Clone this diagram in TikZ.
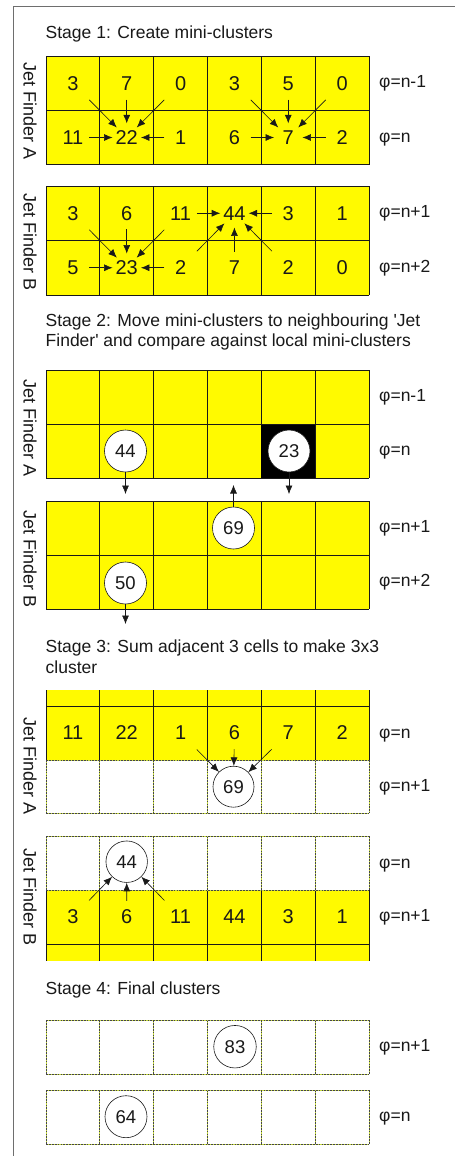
\documentclass[tikz,border=0pt]{standalone}
\usepackage{fontspec}
\setmainfont{Liberation Sans}
\usetikzlibrary{arrows.meta}
\definecolor{cellyellow}{RGB}{255,250,0}
\definecolor{ink}{RGB}{25,25,25}
\definecolor{framegray}{RGB}{110,110,110}
\definecolor{dashgray}{RGB}{70,70,70}
\definecolor{dashyellow}{RGB}{200,220,60}
\newcommand\tfont{\fontsize{17.5}{21}\selectfont}
\newcommand\jffont{\fontsize{18}{21}\selectfont}
\newcommand\dfont{\fontsize{20}{22}\selectfont}
\newcommand\bfontsz{\fontsize{18.5}{20}\selectfont}
\newcommand\ygrid[2]{%
  \fill[cellyellow] (46,#1) rectangle (369,#2);
  \foreach \k in {0,...,6} {\draw[gridline] ({46+\k*53.833},#1) -- ({46+\k*53.833},#2);}}
\newcommand\gridh[1]{\draw[gridline] (46,#1) -- (369,#1);}
\newcommand\dashh[1]{\draw[dashbase] (46,#1) -- (369,#1); \draw[dashtop] (46,#1) -- (369,#1);}
\newcommand\dgrid[2]{%
  \foreach \k in {0,...,6} {\draw[dashbase] ({46+\k*53.833},#1) -- ({46+\k*53.833},#2);
    \draw[dashtop] ({46+\k*53.833},#1) -- ({46+\k*53.833},#2);}
  \dashh{#1}\dashh{#2}}
\newcommand\numrow[3]{%
  \foreach \v [count=\c] in {#3} {\node[num] (#1-\c) at ({46+(\c-0.5)*53.833},#2) {\v};}}
\begin{document}
\begin{tikzpicture}[x=1pt,y=-1pt,
  gridline/.style={draw=ink, line width=0.8pt},
  dashbase/.style={draw=dashyellow, line width=0.9pt},
  dashtop/.style={draw=dashgray, line width=0.9pt, dash pattern=on 1.8pt off 1.1pt},
  num/.style={circle, inner sep=0pt, minimum size=28pt, text=ink, font=\dfont},
  bubble/.style={circle, draw=ink, fill=white, line width=0.6pt, inner sep=0pt, minimum size=42pt, text=ink, font=\bfontsz},
  title/.style={anchor=base west, inner sep=0pt, text=ink, font=\tfont},
  philab/.style={anchor=base west, inner sep=0pt, text=ink, font=\tfont},
  jf/.style={rotate=-90, inner sep=0pt, text=ink, font=\jffont},
  arr/.style={draw=ink, line width=0.6pt, -{Latex[length=8.5pt,width=7pt]}, shorten <=2pt},
  darr/.style={arr, shorten <=9pt},
  barr/.style={arr, shorten <=0pt}]
\useasboundingbox (0,0) rectangle (455,1156);
\fill[white] (0,0) rectangle (455,1156);
\draw[framegray, line width=1.3pt] (13.5,1156) -- (13.5,6.5) -- (455,6.5);

% ---------- Stage 1
\node[title] (t1) at (45.5,39) {Stage 1: Create mini-clusters};
\ygrid{56.5}{164.5}
\gridh{56.5}\gridh{110.5}\gridh{164.5}
\numrow{sa1}{83.5}{3,7,0,3,5,0}
\numrow{sa2}{137.5}{11,22,1,6,7,2}
\draw[darr] (sa1-1) -- (sa2-2);
\draw[arr] (sa1-2) -- (sa2-2);
\draw[darr] (sa1-3) -- (sa2-2);
\draw[arr] (sa2-1) -- (sa2-2);
\draw[arr] (sa2-3) -- (sa2-2);
\draw[darr] (sa1-4) -- (sa2-5);
\draw[arr] (sa1-5) -- (sa2-5);
\draw[darr] (sa1-6) -- (sa2-5);
\draw[arr] (sa2-4) -- (sa2-5);
\draw[arr] (sa2-6) -- (sa2-5);
\node[jf] (jf1a) at (30,111) {Jet Finder A};
\node[philab] (p1a) at (379,88) {φ=n-1};
\node[philab] (p1b) at (379,142) {φ=n};

\ygrid{186}{295}
\gridh{186}\gridh{240.5}\gridh{295}
\numrow{sb1}{213.25}{3,6,11,44,3,1}
\numrow{sb2}{267.75}{5,23,2,7,2,0}
\draw[darr] (sb1-1) -- (sb2-2);
\draw[arr] (sb1-2) -- (sb2-2);
\draw[darr] (sb1-3) -- (sb2-2);
\draw[arr] (sb2-1) -- (sb2-2);
\draw[arr] (sb2-3) -- (sb2-2);
\draw[arr] (sb1-3) -- (sb1-4);
\draw[arr] (sb1-5) -- (sb1-4);
\draw[darr] (sb2-3) -- (sb1-4);
\draw[arr] (sb2-4) -- (sb1-4);
\draw[darr] (sb2-5) -- (sb1-4);
\node[jf] (jf1b) at (30,242) {Jet Finder B};
\node[philab] (p1c) at (379,217.75) {φ=n+1};
\node[philab] (p1d) at (379,272.25) {φ=n+2};

% ---------- Stage 2
\node[title] (t2a) at (45.5,326) {Stage 2: Move mini-clusters to neighbouring \textquotesingle Jet};
\node[title] (t2b) at (45.5,346.7) {Finder\textquotesingle\ and compare against local mini-clusters};
\ygrid{370}{478}
\fill[black] ({46+4*53.833},424) rectangle ({46+5*53.833},478);
\gridh{370}\gridh{424}\gridh{478}
\node[bubble] (c44) at (125.5,451) {44};
\node[bubble] (c23) at (289,451) {23};
\node[jf] (jf2a) at (30,428) {Jet Finder A};
\node[philab] (p2a) at (379,401.5) {φ=n-1};
\node[philab] (p2b) at (379,455.5) {φ=n};

\ygrid{501}{609}
\gridh{501}\gridh{555}\gridh{609}
\node[bubble] (c69) at (233.5,528) {69};
\node[bubble] (c50) at (125.5,583) {50};
\coordinate (e44) at (125.5,494);
\coordinate (e23) at (289,494);
\coordinate (e69) at (233.5,485);
\coordinate (e50) at (125.5,624);
\draw[barr] (c44) -- (e44);
\draw[barr] (c23) -- (e23);
\draw[barr] (c69) -- (e69);
\draw[barr] (c50) -- (e50);
\node[jf] (jf2b) at (30,559) {Jet Finder B};
\node[philab] (p2c) at (379,532.5) {φ=n+1};
\node[philab] (p2d) at (379,586.5) {φ=n+2};

% ---------- Stage 3
\node[title] (t3a) at (45.5,652.3) {Stage 3: Sum adjacent 3 cells to make 3x3};
\node[title] (t3b) at (45.5,673.3) {cluster};
\ygrid{690}{760}
\gridh{706}
\dgrid{760}{813}
\numrow{sc}{733}{11,22,1,6,7,2}
\node[bubble, minimum size=41pt] (d69) at (233.5,786.7) {69};
\draw[darr] (sc-3) -- (d69);
\draw[arr] (sc-4) -- (d69);
\draw[darr] (sc-5) -- (d69);
\node[jf] (jf3a) at (30,766) {Jet Finder A};
\node[philab] (p3a) at (379,738) {φ=n};
\node[philab] (p3b) at (379,791.5) {φ=n+1};

\ygrid{890}{961}
\gridh{944}
\dgrid{836}{890}
\numrow{sd}{917}{3,6,11,44,3,1}
\node[bubble, minimum size=41.5pt] (d44) at (126.7,861.7) {44};
\draw[darr] (sd-1) -- (d44);
\draw[arr] (sd-2) -- (d44);
\draw[darr] (sd-3) -- (d44);
\node[jf] (jf3b) at (30,897) {Jet Finder B};
\node[philab] (p3c) at (379,868) {φ=n};
\node[philab] (p3d) at (379,921.5) {φ=n+1};

% ---------- Stage 4
\node[title] (t4) at (45.5,994) {Stage 4: Final clusters};
\dgrid{1020}{1074}
\dgrid{1090}{1144}
\node[bubble, minimum size=42.5pt] (c83) at (235,1046.7) {83};
\node[bubble] (c64) at (126,1116.7) {64};
\node[philab] (p4a) at (379,1051.5) {φ=n+1};
\node[philab] (p4b) at (379,1121.5) {φ=n};
\end{tikzpicture}
\end{document}
